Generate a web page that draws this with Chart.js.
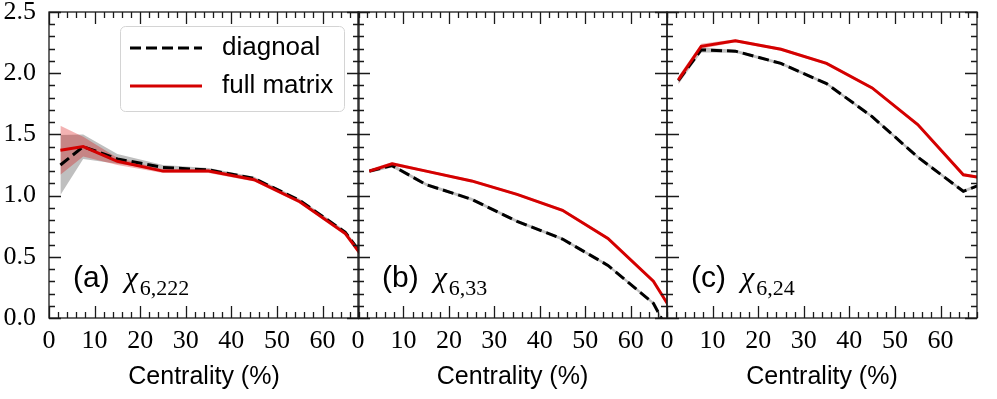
<!DOCTYPE html>
<html>
<head>
<meta charset="utf-8">
<script src="https://cdn.jsdelivr.net/npm/chart.js@4.4.0/dist/chart.umd.min.js"></script>
<style>
html, body { margin: 0; padding: 0; background: #fff; }
#wrap { position: relative; width: 997px; height: 399px; }
#wrap canvas { position: absolute; left: 0; top: 0; }
</style>
</head>
<body>
<div id="wrap">
<canvas id="pa" width="997" height="399"></canvas>
<canvas id="pb" width="997" height="399"></canvas>
<canvas id="pc" width="997" height="399"></canvas>
</div>
<script>
// centrality bin centres (%), last one lies outside the visible range
const centrality = [2.5, 7.5, 15, 25, 35, 45, 55, 65, 75];
const xTicks = [0, 10, 20, 30, 40, 50, 60];
const yTicks = [0, 0.5, 1.0, 1.5, 2.0, 2.5];

// (a) chi_6,222
const diagA    = [1.25, 1.40, 1.30, 1.23, 1.21, 1.14, 0.96, 0.70, 0.20];
const diagAErr = [0.245, 0.10, 0.04, 0.02, 0.015, 0.015, 0.015, 0.015, 0.02];
const fullA    = [1.37, 1.40, 1.28, 1.20, 1.20, 1.13, 0.95, 0.69, 0.19];
const fullAErr = [0.20, 0.08, 0.03, 0.015, 0.015, 0.015, 0.015, 0.015, 0.02];

// (b) chi_6,33
const diagB    = [1.20, 1.245, 1.09, 0.97, 0.79, 0.645, 0.43, 0.12, -0.57];
const diagBErr = [0.015, 0.015, 0.012, 0.012, 0.012, 0.012, 0.012, 0.012, 0.012];
const fullB    = [1.20, 1.26, 1.20, 1.12, 1.01, 0.88, 0.65, 0.30, -0.29];
const fullBErr = [0.015, 0.015, 0.012, 0.012, 0.012, 0.012, 0.012, 0.012, 0.012];

// (c) chi_6,24
const diagC    = [1.94, 2.19, 2.18, 2.08, 1.915, 1.645, 1.315, 1.035, 1.18];
const diagCErr = [0.03, 0.02, 0.012, 0.012, 0.012, 0.012, 0.012, 0.012, 0.012];
const fullC    = [1.945, 2.22, 2.265, 2.195, 2.08, 1.88, 1.58, 1.17, 1.11];
const fullCErr = [0.03, 0.02, 0.012, 0.012, 0.012, 0.012, 0.012, 0.012, 0.012];

const SERIF = '"Liberation Serif", "DejaVu Serif", serif';
const SANS = '"Liberation Sans", "DejaVu Sans", sans-serif';
const RED = '#d40000';
const INK = '#1a1a1a';

function series(vals, err, sign) {
    return centrality.map((c, i) => ({ x: c, y: vals[i] + sign * (err ? err[i] : 0) }));
}

// frame, inward ticks, panel label and (optionally) the legend box
const panelDecor = {
    id: 'panelDecor',
    afterDraw(chart, args, o) {
        const ctx = chart.ctx;
        const a = chart.chartArea;
        const xs = chart.scales.x;
        const ys = chart.scales.y;
        ctx.save();
        ctx.strokeStyle = INK;
        ctx.lineWidth = 1.3;
        ctx.beginPath();
        for (let i = 0; i <= 25; i++) {
            const py = Math.round(ys.getPixelForValue(i / 10)) + 0.5;
            const len = i % 5 === 0 ? 12 : 6;
            ctx.moveTo(a.left, py); ctx.lineTo(a.left + len, py);
            ctx.moveTo(a.right, py); ctx.lineTo(a.right - len, py);
        }
        for (let i = 0; i <= 34; i++) {
            const v = i * 2;
            const px = Math.round(xs.getPixelForValue(v)) + 0.5;
            const len = v % 10 === 0 ? 12 : 6;
            ctx.moveTo(px, a.bottom); ctx.lineTo(px, a.bottom - len);
            ctx.moveTo(px, a.top); ctx.lineTo(px, a.top + len);
        }
        ctx.stroke();
        ctx.strokeRect(a.left, a.top, a.right - a.left, a.bottom - a.top);

        // panel tag like "(a) χ6,222"
        ctx.fillStyle = '#000';
        ctx.textBaseline = 'alphabetic';
        ctx.textAlign = 'left';
        let tx = a.left + 24;
        const ty = a.bottom - 31;
        ctx.font = '30px ' + SANS;
        ctx.fillText(o.tag, tx, ty);
        tx += ctx.measureText(o.tag).width + 15;
        ctx.font = 'italic 30px ' + SERIF;
        ctx.fillText('χ', tx, ty);
        tx += ctx.measureText('χ').width + 2;
        ctx.font = '22px ' + SERIF;
        ctx.fillText(o.sub, tx, ty + 8);

        if (o.legend) {
            const bx = a.left + 71, by = a.top + 14, bw = 224, bh = 85;
            ctx.fillStyle = 'rgba(255,255,255,0.8)';
            ctx.strokeStyle = '#d4d4d4';
            ctx.lineWidth = 1;
            ctx.beginPath();
            ctx.roundRect(bx + 0.5, by + 0.5, bw, bh, 5);
            ctx.fill();
            ctx.stroke();
            const items = [chart.data.datasets[1], chart.data.datasets[0]];
            items.forEach((ds, i) => {
                const ly = by + 22 + i * 38;
                ctx.setLineDash(ds.borderDash || []);
                ctx.strokeStyle = ds.borderColor;
                ctx.lineWidth = ds.borderWidth;
                ctx.beginPath();
                ctx.moveTo(bx + 10, ly);
                ctx.lineTo(bx + 82, ly);
                ctx.stroke();
                ctx.setLineDash([]);
                ctx.fillStyle = '#000';
                ctx.font = '26px ' + SANS;
                ctx.textBaseline = 'middle';
                ctx.fillText(ds.label, bx + 102, ly);
            });
        }
        ctx.restore();
    }
};

function makePanel(id, padLeft, padRight, tag, sub, diag, diagErr, full, fullErr, showY, showLegend) {
    const datasets = [
        { label: 'full matrix', data: series(full, null, 0), borderColor: RED, borderWidth: 3, order: 0 },
        { label: 'diagnoal', data: series(diag, null, 0), borderColor: '#000', borderWidth: 3, borderDash: [11, 5], order: 1 },
        { label: 'full lo', data: series(full, fullErr, -1), borderWidth: 0, borderColor: 'rgba(0,0,0,0)', order: 2 },
        { label: 'full hi', data: series(full, fullErr, 1), borderWidth: 0, borderColor: 'rgba(0,0,0,0)',
          fill: '-1', backgroundColor: 'rgba(214,0,0,0.3)', order: 2 },
        { label: 'diag lo', data: series(diag, diagErr, -1), borderWidth: 0, borderColor: 'rgba(0,0,0,0)', order: 3 },
        { label: 'diag hi', data: series(diag, diagErr, 1), borderWidth: 0, borderColor: 'rgba(0,0,0,0)',
          fill: '-1', backgroundColor: 'rgba(128,128,128,0.5)', order: 3 }
    ];
    datasets.forEach(d => {
        d.pointRadius = 0;
        d.tension = 0;
        d.clip = 0;
        if (d.fill === undefined) d.fill = false;
    });

    const yScale = {
        type: 'linear',
        min: 0,
        max: 2.5,
        display: showY,
        grid: { display: false, drawTicks: false },
        border: { display: false },
        afterBuildTicks: s => { s.ticks = yTicks.map(v => ({ value: v })); },
        ticks: {
            callback: v => v.toFixed(1),
            font: { family: SERIF, size: 26 },
            color: '#000',
            padding: 13
        }
    };
    if (showY) {
        // fixed axis width; labels may overflow the top/bottom edge like in the original
        yScale.afterFit = s => { s.width = 49; s.paddingTop = 0; s.paddingBottom = 0; };
    }

    new Chart(document.getElementById(id), {
        type: 'line',
        data: { datasets: datasets },
        options: {
            responsive: false,
            animation: false,
            layout: { padding: { left: padLeft, right: padRight, top: 12, bottom: 0 } },
            plugins: {
                legend: { display: false },
                tooltip: { enabled: false },
                panelDecor: { tag: tag, sub: sub, legend: showLegend }
            },
            scales: {
                x: {
                    type: 'linear',
                    min: 0,
                    max: 68,
                    grid: { display: false, drawTicks: false },
                    border: { display: false },
                    afterBuildTicks: s => { s.ticks = xTicks.map(v => ({ value: v })); },
                    afterFit: s => { s.height = 81; },
                    ticks: {
                        font: { family: SERIF, size: 26 },
                        color: '#000',
                        padding: 8,
                        maxRotation: 0,
                        autoSkip: false
                    },
                    title: {
                        display: true,
                        text: 'Centrality (%)',
                        font: { family: SANS, size: 25 },
                        color: '#000',
                        padding: { top: 0, bottom: 7 }
                    }
                },
                y: yScale
            }
        },
        plugins: [panelDecor]
    });
}

makePanel('pa', 0, 997 - 359, '(a)', '6,222', diagA, diagAErr, fullA, fullAErr, true, true);
makePanel('pb', 358, 997 - 667, '(b)', '6,33', diagB, diagBErr, fullB, fullBErr, false, false);
makePanel('pc', 667, 997 - 977, '(c)', '6,24', diagC, diagCErr, fullC, fullCErr, false, false);
</script>
</body>
</html>
